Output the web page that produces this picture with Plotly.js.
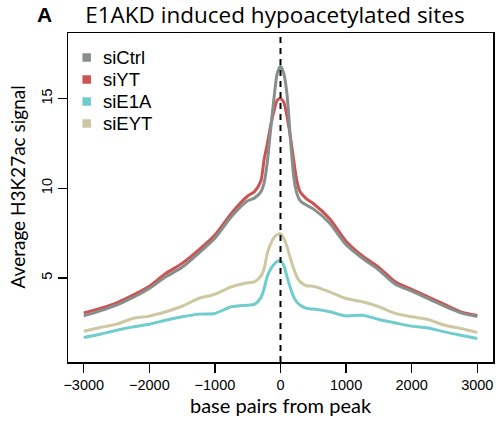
<!DOCTYPE html>
<html>
<head>
<meta charset="utf-8">
<script src="https://cdn.plot.ly/plotly-3.0.1.min.js"></script>
<style>html,body{margin:0;padding:0;background:#fff;}#chart{width:497px;height:430px;}</style>
</head>
<body>
<div id="chart"></div>
<script>
// ---- data ----
const seriesNames = ["siCtrl", "siYT", "siE1A", "siEYT"];
const seriesColors = ["#878f8d", "#cd5353", "#70cccd", "#cdc8a1"];
const bp = [-3000, -2750, -2500, -2250, -2000, -1750, -1500, -1250, -1000, -750, -500, -400, -300, -250, -200, -150, -100, -50, 0, 50, 100, 150, 200, 250, 300, 400, 500, 750, 1000, 1250, 1500, 1750, 2000, 2250, 2500, 2750, 3000];
const siCtrl = [2.88, 3.16, 3.48, 3.91, 4.41, 5.06, 5.59, 6.37, 7.21, 8.41, 9.3, 9.45, 9.8, 10.3, 11.5, 13.3, 15.0, 16.4, 16.8, 16.4, 15.2, 12.8, 10.7, 9.7, 9.3, 9.05, 8.85, 8.05, 6.85, 6.09, 5.44, 4.65, 4.26, 3.85, 3.42, 3.05, 2.85];
const siYT = [3.05, 3.30, 3.61, 4.04, 4.54, 5.25, 5.81, 6.55, 7.39, 8.60, 9.57, 9.8, 10.4, 11.6, 12.5, 13.5, 14.3, 14.9, 15.0, 14.8, 14.0, 12.9, 11.6, 10.4, 9.8, 9.4, 9.15, 8.3, 7.05, 6.22, 5.59, 4.78, 4.36, 3.94, 3.52, 3.11, 2.9];
const siE1A = [1.68, 1.86, 2.08, 2.27, 2.42, 2.64, 2.83, 2.98, 3.02, 3.39, 3.48, 3.52, 3.9, 4.4, 5.1, 5.5, 5.75, 5.92, 5.95, 5.7, 5.06, 4.45, 3.94, 3.65, 3.48, 3.30, 3.26, 3.11, 2.88, 2.92, 2.68, 2.49, 2.31, 2.21, 1.99, 1.80, 1.62];
const siEYT = [2.03, 2.23, 2.42, 2.74, 2.87, 3.11, 3.42, 3.85, 4.09, 4.50, 4.73, 4.78, 5.1, 5.5, 6.4, 6.9, 7.25, 7.42, 7.45, 7.2, 6.74, 6.1, 5.53, 5.05, 4.78, 4.56, 4.54, 4.22, 3.85, 3.67, 3.39, 3.02, 2.83, 2.68, 2.36, 2.18, 1.96];
const xTicks = [-3000, -2000, -1000, 0, 1000, 2000, 3000];
const yTicks = [5, 10, 15];
const titleText = "E1AKD induced hypoacetylated sites";
const panelLabel = "A";
const xTitle = "base pairs from peak";
const yTitle = "Average H3K27ac signal";

// ---- chart ----
const seriesValues = [siCtrl, siYT, siE1A, siEYT];
const traces = seriesNames.map((name, i) => ({
  type: "scatter", mode: "lines", name: name,
  x: bp, y: seriesValues[i],
  line: {color: seriesColors[i], width: 3, shape: "spline", smoothing: 0.7},
  showlegend: false, hoverinfo: "skip"
}));
// draw order: tan and cyan below, red and gray on top
const drawOrder = [3, 2, 1, 0];
const data = drawOrder.map(i => traces[i]);

const W = 497, H = 430;
const M = {l: 68, r: 4, t: 33, b: 68};
const pw = W - M.l - M.r, ph = H - M.t - M.b;
const px2paperX = px => (px - M.l) / pw;
const py2paperY = py => (H - M.b - py) / ph;

const shapes = [{
  type: "line", xref: "x", yref: "paper", x0: 0, x1: 0, y0: 0, y1: 1,
  line: {color: "black", width: 2, dash: "6px,5px"}, layer: "above"
}];
const annotations = [];
const sq = 8.5;
seriesNames.forEach((name, i) => {
  const cy = 57.5 + 22 * i, cx = 86.7;
  shapes.push({type: "rect", xref: "paper", yref: "paper",
    x0: px2paperX(cx - sq / 2), x1: px2paperX(cx + sq / 2),
    y0: py2paperY(cy + sq / 2), y1: py2paperY(cy - sq / 2),
    fillcolor: seriesColors[i], line: {width: 0}});
  annotations.push({xref: "paper", yref: "paper", x: px2paperX(101), y: py2paperY(cy),
    xanchor: "left", yanchor: "middle", showarrow: false, text: name,
    font: {family: "Liberation Sans, Arial, sans-serif", size: 18.5, color: "black"}});
});
annotations.push({xref: "paper", yref: "paper", x: px2paperX(44.5), y: py2paperY(14.5),
  xanchor: "center", yanchor: "middle", showarrow: false, text: "<b>" + panelLabel + "</b>",
  font: {family: "Liberation Sans, Arial, sans-serif", size: 21, color: "black"}});
annotations.push({xref: "paper", yref: "paper", x: px2paperX(16.5), y: py2paperY(187),
  xanchor: "center", yanchor: "middle", showarrow: false, textangle: -90, text: yTitle,
  font: {family: "Lato, sans-serif", size: 19, color: "black"}});

const axisCommon = {
  showgrid: false, zeroline: false, showline: true, mirror: true,
  linecolor: "black", linewidth: 1.5, ticks: "outside", ticklen: 9,
  tickwidth: 1.5, tickcolor: "black",
  tickfont: {family: "Liberation Sans, Arial, sans-serif", size: 14.5, color: "black"}
};

const layout = {
  width: W, height: H, margin: M,
  paper_bgcolor: "white", plot_bgcolor: "white",
  showlegend: false,
  title: {text: titleText, xref: "paper", x: 0.487, yref: "container", y: 1 - 15.5 / H, yanchor: "middle",
    font: {family: "Open Sans, sans-serif", size: 22.5, color: "black"}},
  xaxis: Object.assign({}, axisCommon, {
    range: [-3240, 3240], tickmode: "array", tickvals: xTicks,
    ticktext: xTicks.map(v => v < 0 ? "\u2212" + Math.abs(v) : String(v)),
    title: {text: xTitle, standoff: 4, font: {family: "Lato, sans-serif", size: 20, color: "black"}}
  }),
  yaxis: Object.assign({}, axisCommon, {
    range: [0.31, 18.66], tickmode: "array", tickvals: yTicks,
    ticktext: yTicks.map(String), tickangle: -90
  }),
  shapes: shapes, annotations: annotations
};

Plotly.newPlot("chart", data, layout, {displayModeBar: false, staticPlot: true});
</script>
</body>
</html>
